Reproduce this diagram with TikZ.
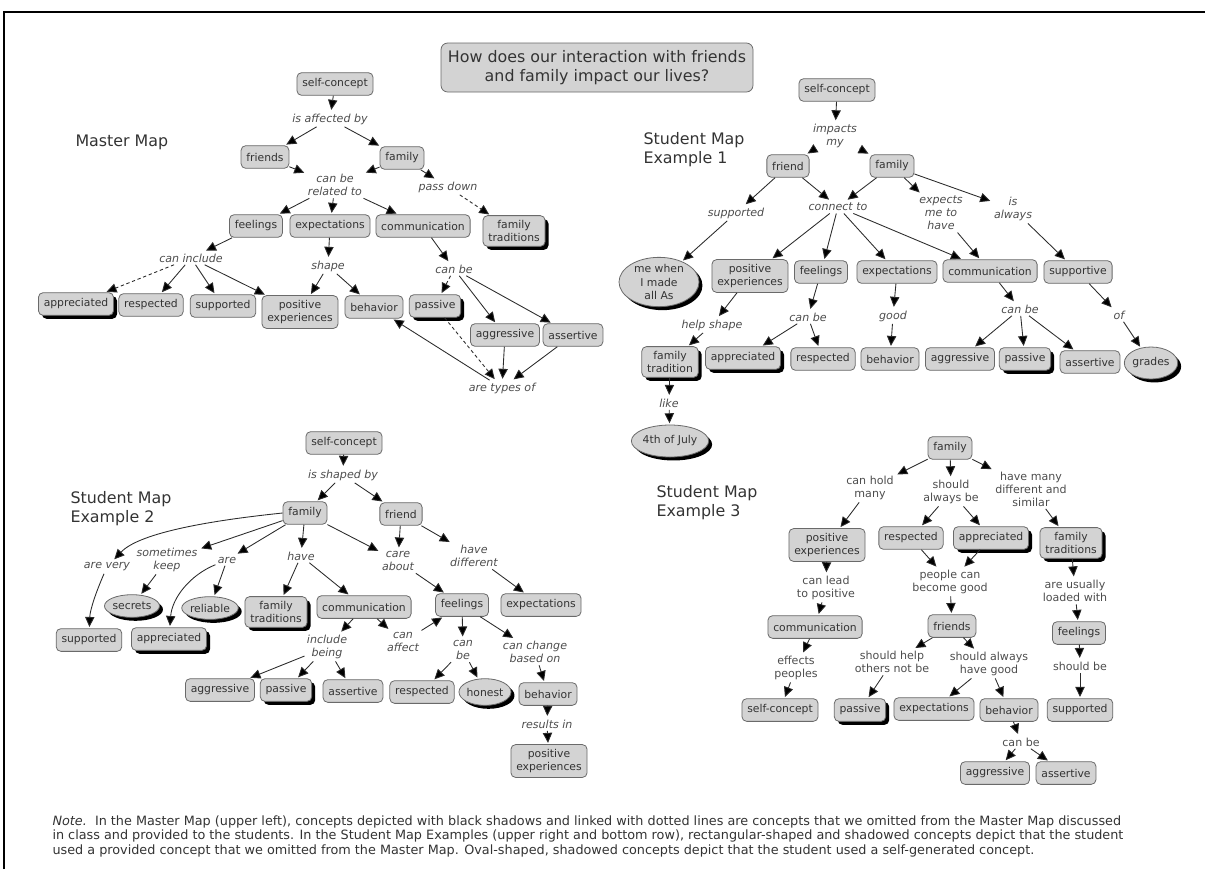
\documentclass[tikz,border=0pt]{standalone}
\usepackage{fontspec}
\setmainfont{DejaVu Sans}
\usetikzlibrary{arrows.meta,shapes.geometric,shadows}

\definecolor{cfill}{HTML}{D3D3D3}
\definecolor{cbord}{HTML}{6A6A6A}
\definecolor{ctext}{HTML}{333333}
\definecolor{ltext}{HTML}{4D4D4D}
\definecolor{lcol}{HTML}{2B2B2B}

\newcommand\cmfont{\fontsize{8.1}{9.8}\selectfont}
\newcommand\lkfont{\fontsize{8.3}{9.8}\selectfont}
\newcommand\hdfont{\fontsize{11.9}{14.3}\selectfont}
\newcommand\ntfont{\fontsize{9.6}{10.8}\selectfont}

\tikzset{
	concept/.style={draw=cbord, fill=cfill, rounded corners=3.5pt, inner xsep=4pt, inner ysep=3.5pt,
		minimum height=17pt, align=center, font=\cmfont, text=ctext, line width=0.6pt},
	oval/.style={ellipse, draw=cbord, fill=cfill, inner sep=0pt, align=center, font=\cmfont,
		text=ctext, line width=0.6pt},
	shad/.style={drop shadow={shadow xshift=2.6pt, shadow yshift=-2.6pt, opacity=1, fill=black}},
	lnk/.style={font=\lkfont\itshape, text=ltext, align=center, inner sep=1.5pt},
	lnkup/.style={font=\lkfont, text=ltext, align=center, inner sep=1.5pt},
	arr/.style={draw=lcol, line width=0.65pt, -{Triangle[length=7.5pt,width=7pt,fill=black]}, shorten >=1pt},
	dsh/.style={dash pattern=on 2.5pt off 2pt},
	heading/.style={font=\hdfont, align=left, anchor=west, text=ctext, inner sep=0pt}}
\tikzset{every picture/.style={line width=0.75pt}}

\begin{document}
\begin{tikzpicture}[x=0.75pt,y=0.75pt,yscale=-1,xscale=1]
	\useasboundingbox (0,0) rectangle (1205,869);
	% frame
	\draw[line width=2.2pt] (4,869) -- (4,12) -- (1205,12);

	% Title
	\node[concept, font=\hdfont, minimum width=234pt, minimum height=36.75pt, rounded corners=5pt] (title) at (597,67.5) {How does our interaction with friends\\and family impact our lives?};

	%%% Master Map
	\node[heading] (mHead) at (75,142) {Master Map};
	\node[concept] (mSelf) at (335,84) {self-concept};
	\node[lnk] (mAffected) at (330,119) {is affected by};
	\node[concept] (mFriends) at (265,157) {friends};
	\node[concept] (mFamily) at (402,158) {family};
	\node[lnk] (mRelated) at (335,185) {can be\\related to};
	\node[lnk] (mPassDown) at (448,187) {pass down};
	\node[concept] (mFeel) at (256,226) {feelings};
	\node[concept] (mExp) at (330,226) {expectations};
	\node[concept] (mComm) at (423,226) {communication};
	\node[concept,shad] (mTrad) at (514,231) {family\\traditions};
	\node[lnk] (mInclude) at (191,258) {can include};
	\node[lnk] (mShape) at (328,266) {shape};
	\node[lnk] (mCanBe) at (454,269) {can be};
	\node[concept,shad] (mAppr) at (76,304) {appreciated};
	\node[concept] (mResp) at (151,305) {respected};
	\node[concept] (mSupp) at (223,306) {supported};
	\node[concept] (mPos) at (300,312) {positive\\experiences};
	\node[concept] (mBehav) at (374,307) {behavior};
	\node[concept,shad] (mPass) at (435,306) {passive};
	\node[concept] (mAggr) at (505,335) {aggressive};
	\node[concept] (mAsser) at (573,335) {assertive};
	\node[lnk] (mTypes) at (502,388) {are types of};

	\draw[arr] (mSelf) -- (mAffected);
	\draw[arr] (mAffected) -- (mFriends);
	\draw[arr] (mAffected) -- (mFamily);
	\draw[arr] (mFriends) -- (mRelated);
	\draw[arr] (mFamily) -- (mRelated);
	\draw[arr] (mFamily) -- (mPassDown);
	\draw[arr,dsh] (mPassDown) -- (mTrad);
	\draw[arr] (mRelated) -- (mFeel);
	\draw[arr] (mRelated) -- (mExp);
	\draw[arr] (mRelated) -- (mComm);
	\draw[arr] (mFeel) -- (mInclude);
	\draw[arr,dsh] (mInclude) -- (mAppr);
	\draw[arr] (mInclude) -- (mResp);
	\draw[arr] (mInclude) -- (mSupp);
	\draw[arr] (mInclude) -- (mPos);
	\draw[arr] (mExp) -- (mShape);
	\draw[arr] (mShape) -- (mPos);
	\draw[arr] (mShape) -- (mBehav);
	\draw[arr] (mComm) -- (mCanBe);
	\draw[arr,dsh] (mCanBe) -- (mPass);
	\draw[arr] (mCanBe) -- (mAggr);
	\draw[arr] (mCanBe) -- (mAsser);
	\draw[arr] (mTypes) -- (mBehav);
	\draw[arr,dsh] (mPass) -- (mTypes);
	\draw[arr] (mAggr) -- (mTypes);
	\draw[arr] (mAsser) -- (mTypes);

	%%% Student Map Example 1
	\node[heading] (aHead) at (643,150) {Student Map\\Example 1};
	\node[concept] (aSelf) at (837,90) {self-concept};
	\node[lnk] (aImpacts) at (835,136) {impacts\\my};
	\node[concept] (aFriend) at (788,166) {friend};
	\node[concept] (aFamily) at (892,166) {family};
	\node[lnk] (aSupported) at (736,213) {supported};
	\node[lnk] (aConnect) at (838,207) {connect to};
	\node[lnk] (aExpects) at (941,213) {expects\\me to\\have};
	\node[lnk] (aAlways) at (1013,209) {is\\always};
	\node[oval,shad,minimum width=60pt,minimum height=37pt] (aMe) at (659,282) {me when\\I made\\all As};
	\node[concept] (aPos) at (750,276) {positive\\experiences};
	\node[concept] (aFeel) at (821,272) {feelings};
	\node[concept] (aExp) at (897,272) {expectations};
	\node[concept] (aComm) at (990,271) {communication};
	\node[concept] (aSupportive) at (1078,272) {supportive};
	\node[lnk] (aHelp) at (712,325) {help shape};
	\node[lnk] (aCanBe) at (808,317) {can be};
	\node[lnk] (aGood) at (893,316) {good};
	\node[lnk] (aCanBeB) at (1020,309) {can be};
	\node[lnk] (aOf) at (1119,315) {of};
	\node[concept,shad] (aTrad) at (670,362) {family\\tradition};
	\node[concept,shad] (aAppr) at (743,358) {appreciated};
	\node[concept] (aResp) at (823,359) {respected};
	\node[concept] (aBehav) at (890,359) {behavior};
	\node[concept] (aAggr) at (960,359) {aggressive};
	\node[concept,shad] (aPass) at (1025,359) {passive};
	\node[concept] (aAsser) at (1090,362) {assertive};
	\node[oval,shad,minimum width=40pt,minimum height=24pt] (aGrades) at (1151,363) {grades};
	\node[lnk] (aLike) at (669,403) {like};
	\node[oval,shad,minimum width=55pt,minimum height=24pt] (a4th) at (670,441) {4th of July};

	\draw[arr] (aSelf) -- (aImpacts);
	\draw[arr] (aImpacts) -- (aFriend);
	\draw[arr] (aImpacts) -- (aFamily);
	\draw[arr] (aFriend) -- (aSupported);
	\draw[arr] (aFriend) -- (aConnect);
	\draw[arr] (aFamily) -- (aConnect);
	\draw[arr] (aFamily) -- (aExpects);
	\draw[arr] (aFamily) -- (aAlways);
	\draw[arr] (aSupported) -- (aMe);
	\draw[arr] (aConnect) -- (aPos);
	\draw[arr] (aConnect) -- (aFeel);
	\draw[arr] (aConnect) -- (aExp);
	\draw[arr] (aConnect) -- (aComm);
	\draw[arr] (aExpects) -- (aComm);
	\draw[arr] (aAlways) -- (aSupportive);
	\draw[arr] (aPos) -- (aHelp);
	\draw[arr] (aHelp) -- (aTrad);
	\draw[arr] (aFeel) -- (aCanBe);
	\draw[arr] (aCanBe) -- (aAppr);
	\draw[arr] (aCanBe) -- (aResp);
	\draw[arr] (aExp) -- (aGood);
	\draw[arr] (aGood) -- (aBehav);
	\draw[arr] (aComm) -- (aCanBeB);
	\draw[arr] (aCanBeB) -- (aAggr);
	\draw[arr] (aCanBeB) -- (aPass);
	\draw[arr] (aCanBeB) -- (aAsser);
	\draw[arr] (aSupportive) -- (aOf);
	\draw[arr] (aOf) -- (aGrades);
	\draw[arr] (aTrad) -- (aLike);
	\draw[arr] (aLike) -- (a4th);

	%%% Student Map Example 2
	\node[heading] (bHead) at (70,509) {Student Map\\Example 2};
	\node[concept] (bSelf) at (344,443) {self-concept};
	\node[lnk] (bShaped) at (343,475) {is shaped by};
	\node[concept] (bFamily) at (305,513) {family};
	\node[concept] (bFriend) at (401,514) {friend};
	\node[lnk] (bKeep) at (167,560) {sometimes\\keep};
	\node[lnk] (bVery) at (107,567) {are very};
	\node[lnk] (bAre) at (227,560) {are};
	\node[lnk] (bHave) at (301,556) {have};
	\node[lnk] (bCare) at (398,561) {care\\about};
	\node[lnk] (bDiff) at (474,556) {have\\different};
	\node[oval,shad,minimum width=40pt,minimum height=17pt] (bSecrets) at (132,606) {secrets};
	\node[oval,shad,minimum width=38pt,minimum height=17pt] (bReliable) at (210,608) {reliable};
	\node[concept,shad] (bTrad) at (276,612) {family\\traditions};
	\node[concept] (bComm) at (364,607) {communication};
	\node[concept] (bFeel) at (462,605) {feelings};
	\node[concept] (bExp) at (541,605) {expectations};
	\node[concept] (bSupp) at (89,640) {supported};
	\node[concept,shad] (bAppr) at (169,639) {appreciated};
	\node[lnk] (bInclude) at (327,647) {include\\being};
	\node[lnk] (bAffect) at (403,642) {can\\affect};
	\node[lnk] (bCanBe) at (463,650) {can\\be};
	\node[lnk] (bChange) at (535,652) {can change\\based on};
	\node[concept] (bAggr) at (220,690) {aggressive};
	\node[concept,shad] (bPass) at (286,690) {passive};
	\node[concept] (bAsser) at (353,691) {assertive};
	\node[concept] (bResp) at (422,692) {respected};
	\node[oval,shad,minimum width=38pt,minimum height=20pt] (bHonest) at (485,692) {honest};
	\node[concept] (bBehav) at (548,694) {behavior};
	\node[lnk] (bResults) at (547,724) {results in};
	\node[concept] (bPos) at (549,761) {positive\\experiences};

	\draw[arr] (bSelf) -- (bShaped);
	\draw[arr] (bShaped) -- (bFamily);
	\draw[arr] (bShaped) -- (bFriend);
	\draw[arr] (bFamily.west) .. controls (215,520) and (140,532) .. (bVery);
	\draw[arr] (bVery) .. controls (96,592) and (90,610) .. (bSupp);
	\draw[arr] (bFamily) -- (bKeep);
	\draw[arr] (bKeep) -- (bSecrets);
	\draw[arr] (bFamily) -- (bAre);
	\draw[arr] (bAre) -- (bReliable);
	\draw[arr] (bAre) .. controls (190,575) and (172,598) .. (bAppr);
	\draw[arr] (bFamily) -- (bHave);
	\draw[arr] (bHave) -- (bTrad);
	\draw[arr] (bHave) -- (bComm);
	\draw[arr] (bFamily) -- (bCare);
	\draw[arr] (bFriend) -- (bCare);
	\draw[arr] (bFriend) -- (bDiff);
	\draw[arr] (bCare) -- (bFeel);
	\draw[arr] (bDiff) -- (bExp);
	\draw[arr] (bComm) -- (bInclude);
	\draw[arr] (bComm) -- (bAffect);
	\draw[arr] (bAffect) -- (bFeel);
	\draw[arr] (bInclude) -- (bAggr);
	\draw[arr] (bInclude) -- (bPass);
	\draw[arr] (bInclude) -- (bAsser);
	\draw[arr] (bFeel) -- (bCanBe);
	\draw[arr] (bCanBe) -- (bResp);
	\draw[arr] (bCanBe) -- (bHonest);
	\draw[arr] (bFeel) -- (bChange);
	\draw[arr] (bChange) -- (bBehav);
	\draw[arr] (bBehav) -- (bResults);
	\draw[arr] (bResults) -- (bPos);

	%%% Student Map Example 3
	\node[heading] (cHead) at (656,503) {Student Map\\Example 3};
	\node[concept] (cFamily) at (950,448) {family};
	\node[lnkup] (cHold) at (870,488) {can hold\\many};
	\node[lnkup] (cShould) at (951,492) {should\\always be};
	\node[lnkup] (cMany) at (1031,489) {have many\\different and\\similar};
	\node[concept] (cPos) at (827,545) {positive\\experiences};
	\node[concept] (cResp) at (911,538) {respected};
	\node[concept,shad] (cAppr) at (991,538) {appreciated};
	\node[concept,shad] (cTrad) at (1071,543) {family\\traditions};
	\node[lnkup] (cLead) at (826,588) {can lead\\to positive};
	\node[lnkup] (cPeople) at (950,582) {people can\\become good};
	\node[lnkup] (cLoaded) at (1075,591) {are usually\\loaded with};
	\node[concept] (cComm) at (815,627) {communication};
	\node[concept] (cFriends) at (952,626) {friends};
	\node[concept] (cFeel) at (1079,633) {feelings};
	\node[lnkup] (cEffects) at (796,668) {effects\\peoples};
	\node[lnkup] (cHelp) at (892,662) {should help\\others not be};
	\node[lnkup] (cAlways) at (989,664) {should always\\have good};
	\node[lnkup] (cShouldBe) at (1080,666) {should be};
	\node[concept] (cSelf) at (780,710) {self-concept};
	\node[concept,shad] (cPass) at (860,710) {passive};
	\node[concept] (cExp) at (934,709) {expectations};
	\node[concept] (cBehav) at (1009,710) {behavior};
	\node[concept] (cSupp) at (1080,710) {supported};
	\node[lnkup] (cCanBe) at (1021,742) {can be};
	\node[concept] (cAggr) at (995,773) {aggressive};
	\node[concept] (cAsser) at (1066,773) {assertive};

	\draw[arr] (cFamily) -- (cHold);
	\draw[arr] (cFamily) -- (cShould);
	\draw[arr] (cFamily) -- (cMany);
	\draw[arr] (cHold) -- (cPos);
	\draw[arr] (cShould) -- (cResp);
	\draw[arr] (cShould) -- (cAppr);
	\draw[arr] (cMany) -- (cTrad);
	\draw[arr] (cPos) -- (cLead);
	\draw[arr] (cResp) -- (cPeople);
	\draw[arr] (cAppr) -- (cPeople);
	\draw[arr] (cTrad) -- (cLoaded);
	\draw[arr] (cLead) -- (cComm);
	\draw[arr] (cPeople) -- (cFriends);
	\draw[arr] (cLoaded) -- (cFeel);
	\draw[arr] (cComm) -- (cEffects);
	\draw[arr] (cEffects) -- (cSelf);
	\draw[arr] (cFriends) -- (cHelp);
	\draw[arr] (cFriends) -- (cAlways);
	\draw[arr] (cHelp) -- (cPass);
	\draw[arr] (cAlways) -- (cExp);
	\draw[arr] (cAlways) -- (cBehav);
	\draw[arr] (cFeel) -- (cShouldBe);
	\draw[arr] (cShouldBe) -- (cSupp);
	\draw[arr] (cBehav) -- (cCanBe);
	\draw[arr] (cCanBe) -- (cAggr);
	\draw[arr] (cCanBe) -- (cAsser);

	% Note
	\node[anchor=north west, font=\ntfont, align=left, text=ctext, inner sep=0pt] (note) at (52,815) {\textit{Note.}\ \ In the Master Map (upper left), concepts depicted with black shadows and linked with dotted lines are concepts that we omitted from the Master Map discussed\\in class and provided to the students. In the Student Map Examples (upper right and bottom row), rectangular-shaped and shadowed concepts depict that the student\\used a provided concept that we omitted from the Master Map. Oval-shaped, shadowed concepts depict that the student used a self-generated concept.};
\end{tikzpicture}
\end{document}
